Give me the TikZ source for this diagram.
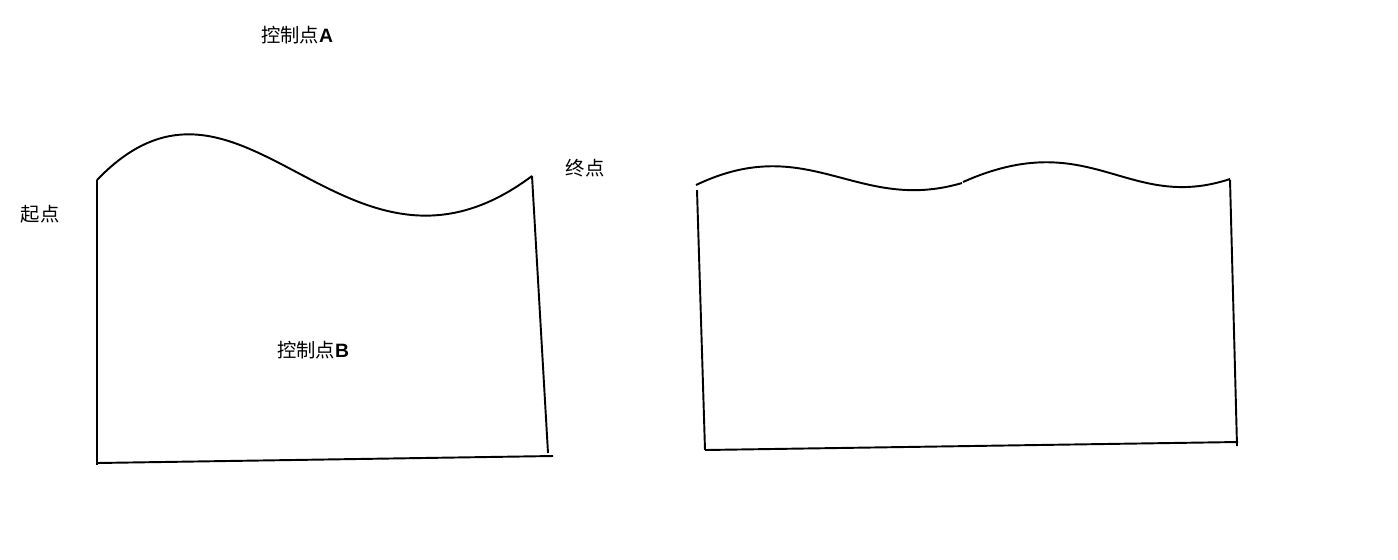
\documentclass[tikz,border=0pt]{standalone}
\usepackage{fontspec}
\newfontfamily\cjk{Noto Sans CJK SC}
\setsansfont{Liberation Sans}
\begin{document}
\begin{tikzpicture}[x=0.02cm,y=-0.02cm,
  line/.style={draw=black,line width=1.1pt},
  label/.style={font=\cjk\fontsize{11}{13}\selectfont,text=black,inner sep=0pt},
]
\useasboundingbox (0,0) rectangle (1398,559);
\node[label] (ctrlA) at (297,35) {控制点\textbf{\sffamily A}};
\node[label] (ctrlB) at (313,350) {控制点\textbf{\sffamily B}};
\node[label] (start) at (40,214) {起点};
\node[label] (end) at (585,168) {终点};
\coordinate (p0) at (97,180);
\coordinate (p3) at (532,176);
\draw[line] (p0) .. controls (243,28) and (345,316) .. (p3);
\draw[line] (p0) -- (97,465);
\draw[line] (97,463) -- (553,456);
\draw[line] (p3) -- (548,453);
\coordinate (q0) at (696,185);
\coordinate (q1) at (962,183);
\coordinate (q2) at (1230,179);
\draw[line] (q0) .. controls (809,131) and (857,214) .. (q1);
\draw[line] (963,182) .. controls (1091,125) and (1127,213) .. (q2);
\draw[line] (697,190) -- (705,450);
\draw[line] (705,450) -- (1238,442);
\draw[line] (1230,180) -- (1237,446);
\end{tikzpicture}
\end{document}
